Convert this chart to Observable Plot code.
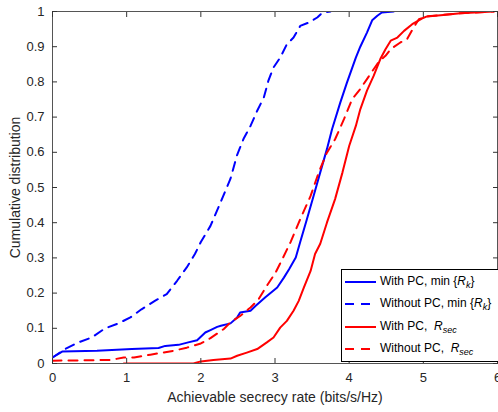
<!DOCTYPE html>
<html>
<head>
<meta charset="utf-8">
<script src="https://cdn.jsdelivr.net/npm/d3@7"></script>
<script src="https://cdn.jsdelivr.net/npm/@observablehq/plot@0.6"></script>
<style>
  body { margin: 0; background: white; }
  #wrap { position: relative; width: 498px; height: 412px; overflow: hidden; font-family: "Liberation Sans", Arial, sans-serif; }
  #legend { position: absolute; left: 341px; top: 269px; width: 160px; height: 93px; border: 1px solid #000; background: #fff; box-sizing: border-box; font-size: 12px; color: #000; }
  .row { position: absolute; left: 0; height: 20px; display: flex; align-items: center; }
  .row svg { margin-left: 3px; margin-right: 4px; }
  sub { font-size: 9px; vertical-align: -3px; }
</style>
</head>
<body>
<div id="wrap"></div>
<script>
// ---- data ----
const xTicks = [0, 1, 2, 3, 4, 5, 6];
const yTicks = [0, 0.1, 0.2, 0.3, 0.4, 0.5, 0.6, 0.7, 0.8, 0.9, 1];

const blueSolidX = [0, 0.13, 0.6, 1.07, 1.43, 1.52, 1.70, 1.83, 1.95, 2.06, 2.13, 2.22, 2.27, 2.40, 2.49, 2.53, 2.67, 2.74, 2.87, 3.03, 3.12, 3.19, 3.28, 3.34, 3.43, 3.52, 3.61, 3.70, 3.77, 3.88, 3.97, 4.09, 4.15, 4.24, 4.31, 4.38, 4.44, 4.60];
const blueSolidY = [0.017, 0.034, 0.036, 0.041, 0.044, 0.05, 0.053, 0.06, 0.066, 0.088, 0.095, 0.104, 0.107, 0.114, 0.131, 0.145, 0.15, 0.164, 0.188, 0.216, 0.244, 0.268, 0.301, 0.345, 0.41, 0.476, 0.543, 0.609, 0.666, 0.741, 0.798, 0.869, 0.900, 0.940, 0.975, 0.988, 0.997, 1.0];

const blueDashX = [0, 0.17, 0.35, 0.53, 0.71, 0.89, 1.05, 1.20, 1.38, 1.54, 1.68, 1.81, 1.92, 2.0, 2.13, 2.27, 2.40, 2.49, 2.58, 2.67, 2.76, 2.85, 2.91, 2.98, 3.07, 3.16, 3.25, 3.34, 3.46, 3.57, 3.64, 3.75];
const blueDashY = [0.017, 0.041, 0.06, 0.074, 0.10, 0.114, 0.131, 0.154, 0.178, 0.197, 0.235, 0.273, 0.311, 0.345, 0.391, 0.46, 0.525, 0.593, 0.640, 0.675, 0.718, 0.756, 0.803, 0.841, 0.869, 0.907, 0.926, 0.959, 0.969, 0.983, 0.997, 1.0];

const redSolidX = [0.96, 1.9, 2.0, 2.17, 2.40, 2.49, 2.62, 2.76, 2.89, 2.98, 3.07, 3.16, 3.25, 3.32, 3.39, 3.48, 3.54, 3.61, 3.70, 3.81, 3.91, 4.0, 4.09, 4.15, 4.24, 4.33, 4.42, 4.49, 4.56, 4.65, 4.74, 4.85, 4.98, 5.05, 5.27, 5.50, 5.95];
const redSolidY = [0, 0, 0.006, 0.01, 0.014, 0.022, 0.031, 0.041, 0.06, 0.074, 0.102, 0.121, 0.15, 0.178, 0.216, 0.263, 0.311, 0.340, 0.40, 0.467, 0.543, 0.618, 0.675, 0.722, 0.775, 0.817, 0.865, 0.893, 0.917, 0.926, 0.945, 0.964, 0.98, 0.986, 0.99, 0.995, 1.0];

const redDashX = [0, 0.78, 0.96, 1.1, 1.32, 1.63, 1.81, 2.0, 2.13, 2.31, 2.40, 2.53, 2.67, 2.78, 2.89, 3.01, 3.10, 3.21, 3.34, 3.48, 3.59, 3.70, 3.81, 3.93, 4.04, 4.15, 4.24, 4.33, 4.41, 4.49, 4.56, 4.69, 4.78, 4.87, 4.94, 5.05, 5.23, 5.50, 5.95];
const redDashY = [0.008, 0.01, 0.017, 0.017, 0.025, 0.036, 0.045, 0.057, 0.072, 0.098, 0.117, 0.135, 0.159, 0.183, 0.221, 0.259, 0.297, 0.345, 0.41, 0.476, 0.543, 0.599, 0.637, 0.694, 0.751, 0.78, 0.808, 0.836, 0.86, 0.874, 0.893, 0.912, 0.921, 0.955, 0.978, 0.986, 0.99, 0.995, 1.0];

const seriesNames = ["With PC, min {Rk}", "Without PC, min {Rk}", "With PC,  Rsec", "Without PC,  Rsec"];
const seriesColors = ["#0000ff", "#0000ff", "#ff0000", "#ff0000"];
const seriesDash = [null, "9,7", null, "9,7"];

// ---- build ----
const series = [
  [blueSolidX, blueSolidY], [blueDashX, blueDashY], [redSolidX, redSolidY], [redDashX, redDashY]
].map(([xs, ys]) => xs.map((x, i) => ({x, y: ys[i]})));

const fmt = d => String(+d.toFixed(1));
const labelCol = "#262626";

const lineMarks = series.map((data, i) => Plot.line(data, {
  x: "x", y: "y", stroke: seriesColors[i], strokeWidth: 2,
  strokeDasharray: seriesDash[i] || undefined, clip: true
}));

const chart = Plot.plot({
  width: 498, height: 412,
  marginLeft: 52, marginRight: 1, marginTop: 11, marginBottom: 49,
  x: {domain: [0, 6]},
  y: {domain: [0, 1]},
  style: {fontFamily: "'Liberation Sans', Arial, sans-serif", fontSize: "13px", color: labelCol, background: "white", overflow: "visible"},
  marks: [
    ...lineMarks,
    Plot.frame({stroke: "#555", strokeWidth: 1}),
    Plot.axisX({ticks: xTicks, tickSize: 0, tickPadding: 9, tickFormat: fmt, fontSize: 13,
      label: "Achievable secrecy rate (bits/s/Hz)", labelAnchor: "center", labelArrow: "none", labelOffset: 38}),
    Plot.axisX({ticks: xTicks, tickSize: -5, tickFormat: () => "", label: null, stroke: "#333"}),
    Plot.axisX({anchor: "top", ticks: xTicks, tickSize: -5, tickFormat: () => "", label: null, stroke: "#333"}),
    Plot.axisY({ticks: yTicks, tickSize: 0, tickPadding: 8, tickFormat: fmt, fontSize: 13,
      label: "Cumulative distribution", labelAnchor: "center", labelArrow: "none", labelOffset: 42}),
    Plot.axisY({ticks: yTicks, tickSize: -5, tickFormat: () => "", label: null, stroke: "#333"}),
    Plot.axisY({anchor: "right", ticks: yTicks, tickSize: -5, tickFormat: () => "", label: null, stroke: "#333"})
  ]
});
chart.querySelectorAll("g[aria-label='x-axis label'] text, g[aria-label='y-axis label'] text").forEach(t => t.setAttribute("font-size", "14"));
const wrap = document.getElementById("wrap");
wrap.appendChild(chart);

// ---- legend ----
const legend = document.createElement("div");
legend.id = "legend";
const labelsHtml = [
  "With PC, min {<i>R</i><sub><i>k</i></sub>}",
  "Without PC, min {<i>R</i><sub><i>k</i></sub>}",
  "With PC,&nbsp;&nbsp;<i>R</i><sub><i>sec</i></sub>",
  "Without PC,&nbsp;&nbsp;<i>R</i><sub><i>sec</i></sub>"
];
const rowTops = [2, 24, 47, 69];
seriesNames.forEach((name, i) => {
  const row = document.createElement("div");
  row.className = "row";
  row.style.top = rowTops[i] + "px";
  row.title = name;
  const dash = seriesDash[i] ? `stroke-dasharray="${seriesDash[i]}"` : "";
  row.innerHTML = `<svg width="31" height="6"><line x1="0" y1="3" x2="31" y2="3" stroke="${seriesColors[i]}" stroke-width="2" ${dash}/></svg><span>${labelsHtml[i]}</span>`;
  legend.appendChild(row);
});
wrap.appendChild(legend);
</script>
</body>
</html>
